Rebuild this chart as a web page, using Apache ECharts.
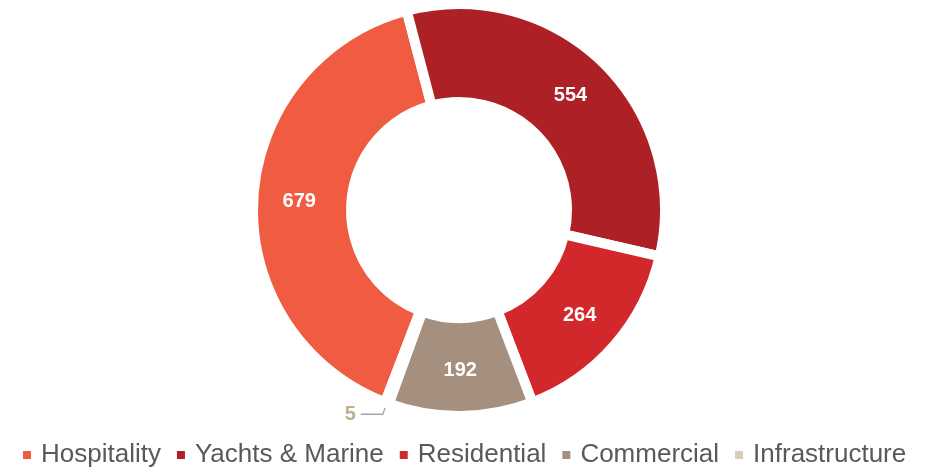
<!DOCTYPE html>
<html>
<head>
<meta charset="utf-8">
<script src="https://cdn.jsdelivr.net/npm/echarts@6/dist/echarts.min.js"></script>
<style>
  html, body { margin: 0; padding: 0; background: #fff; }
  #chart { width: 938px; height: 472px; }
</style>
</head>
<body>
<div id="chart"></div>
<script>
// segment names and counts, in drawing order (clockwise)
const categories = ['Hospitality', 'Yachts & Marine', 'Residential', 'Commercial', 'Infrastructure']
const values = [679, 554, 264, 192, 5]
const colors = ['#f05c42', '#ad2025', '#d2272b', '#a59080', '#d8ccb9']

const chart = echarts.init(document.getElementById('chart'))

const pieData = categories.map((name, i) => {
  const item = { name: name, value: values[i], itemStyle: { color: colors[i] } }
  if (name === 'Infrastructure') {
    // tiny slice gets an outside label with a leader line
    item.label = {
      position: 'outside',
      color: '#bfae8e',
      fontSize: 20,
      fontWeight: 'bold'
    }
    item.labelLine = {
      show: true,
      length: 12,
      length2: 22,
      lineStyle: { color: '#a6a6a6', width: 1.3 }
    }
  }
  return item
})

chart.setOption({
  animation: false,
  textStyle: { fontFamily: 'Liberation Sans, Arial, sans-serif' },
  legend: {
    data: categories,
    left: 21,
    top: 442,
    padding: 0,
    icon: 'rect',
    itemWidth: 10,
    itemHeight: 10,
    itemGap: 14,
    textStyle: {
      fontSize: 26,
      color: '#595959',
      padding: [0, 0, 0, 4]
    }
  },
  series: [{
    type: 'pie',
    center: [459, 210],
    radius: [108, 206],
    startAngle: 249,
    clockwise: true,
    avoidLabelOverlap: false,
    itemStyle: {
      borderColor: '#fff',
      borderWidth: 10
    },
    label: {
      show: true,
      position: 'inside',
      color: '#fff',
      fontSize: 20,
      fontWeight: 'bold',
      formatter: '{c}'
    },
    labelLine: { show: false },
    data: pieData
  }]
})
</script>
</body>
</html>
